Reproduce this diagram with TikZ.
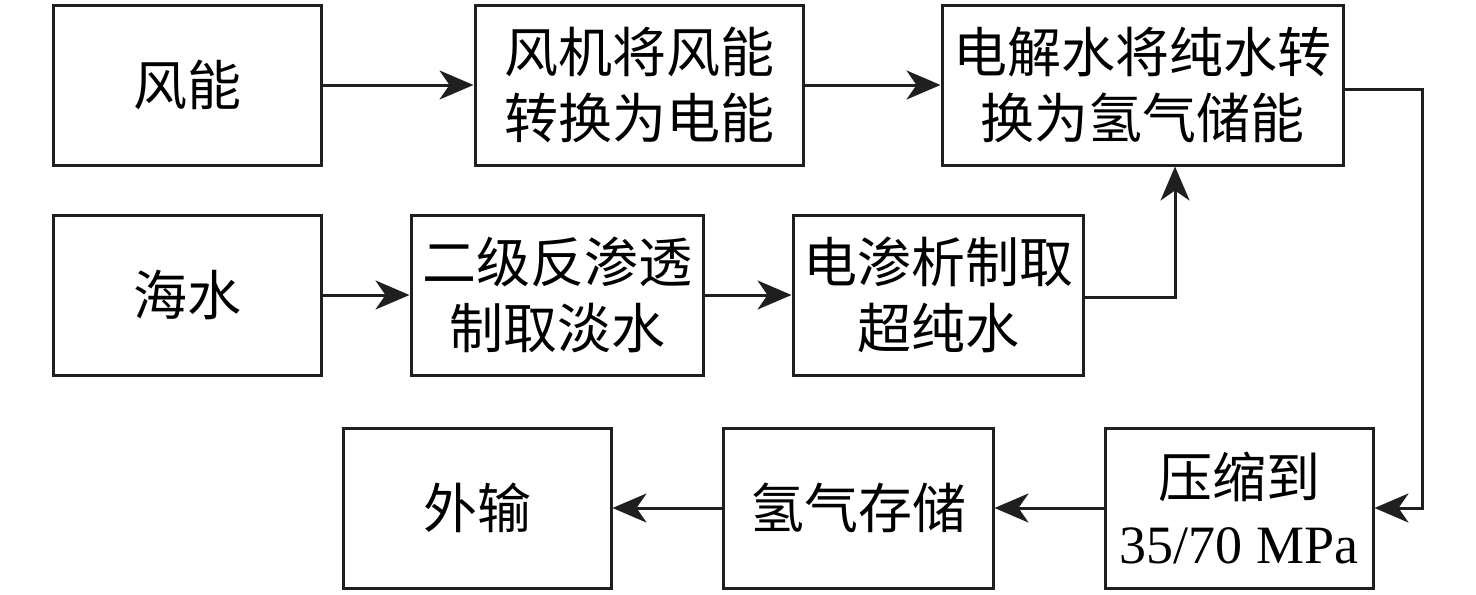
\documentclass[tikz,border=0pt]{standalone}
\usepackage{fontspec}
\setmainfont{Liberation Serif}
\newfontfamily\cjk{Noto Sans CJK SC}
\usetikzlibrary{arrows.meta}
\begin{document}
\begin{tikzpicture}[x=0.5pt,y=-0.5pt,
  box/.style={draw=black!88, line width=1.5pt, minimum height=80pt, align=center,
    inner sep=0pt, font=\fontsize{27}{33}\selectfont},
  flow/.style={draw=black!88, line width=1.5pt,
    -{Stealth[length=17pt,width=14.5pt,inset=5pt]}},
  line/.style={draw=black!88, line width=1.5pt}]
\useasboundingbox (0,0) rectangle (1476,594);
\node[box, minimum width=134pt] (wind) at (187,85) {{\cjk 风能}};
\node[box, minimum width=164pt] (turb) at (639,85) {{\cjk 风机将风能}\\{\cjk 转换为电能}};
\node[box, minimum width=200.5pt] (elec) at (1142.5,85) {{\cjk 电解水将纯水转}\\{\cjk 换为氢气储能}};
\node[box, minimum width=134pt] (sea) at (187,295) {{\cjk 海水}};
\node[box, minimum width=146pt] (ro) at (557,295) {{\cjk 二级反渗透}\\{\cjk 制取淡水}};
\node[box, minimum width=145pt] (ed) at (938,295) {{\cjk 电渗析制取}\\{\cjk 超纯水}};
\node[box, minimum width=134pt] (out) at (477,508) {{\cjk 外输}};
\node[box, minimum width=135pt] (store) at (858,508) {{\cjk 氢气存储}};
\node[box, minimum width=134pt] (comp) at (1239,508) {{\cjk 压缩到}\\35/70 MPa};
\coordinate (c1) at (1422,89);
\coordinate (c2) at (1175,297);
\draw[flow] (wind) -- (turb);
\draw[flow] (turb) -- (elec);
\draw[flow] (sea) -- (ro);
\draw[flow] (ro) -- (ed);
\draw[flow] (ed.east |- c2) -- (c2) -- (c2 |- elec.south);
\draw[flow] (elec.east |- c1) -- (c1) |- (comp.east);
\draw[flow] (comp) -- (store);
\draw[flow] (store) -- (out);
\end{tikzpicture}
\end{document}
